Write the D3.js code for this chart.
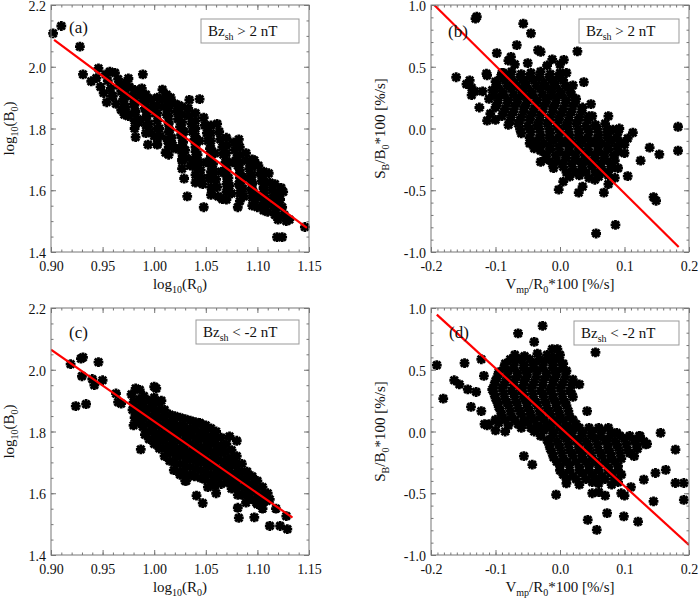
<!DOCTYPE html>
<html>
<head>
<meta charset="utf-8">
<script src="https://cdn.jsdelivr.net/npm/d3@7"></script>
<style>
  body { margin: 0; background: #fff; }
  text { font-family: "Liberation Serif", "Times New Roman", serif; fill: #111; }
</style>
</head>
<body>
<svg id="fig" width="699" height="602"></svg>
<script>
// ---- data ----
const ptsA = [
  [0.902,2.108],[0.910,2.132],[0.928,2.065],[0.931,1.975],[0.939,1.953],[0.946,1.995],[0.944,1.963],[0.953,1.975],
  [0.957,1.984],[0.962,1.98],[0.954,1.885],[0.959,1.905],[0.966,1.94],[0.973,1.853],[0.975,1.962],[0.982,1.772],
  [0.989,1.975],[0.994,1.748],[1.003,1.748],[1.011,1.722],[1.029,1.638],[1.032,1.580],[1.048,1.545],[1.034,1.893],
  [1.066,1.571],[1.081,1.545],[1.119,1.448],[1.124,1.448],[1.146,1.481],[1.123,1.608],[1.125,1.595],[1.111,1.655],
  [1.097,1.697],[1.082,1.765],[1.061,1.815],[1.044,1.895],[1.008,1.926],[0.988,1.93],[1.012,1.91],
  [0.948,1.935],[0.951,1.915],[0.955,1.955],[0.958,1.93],[0.96,1.905],[0.963,1.88],[0.965,1.96],[0.968,1.92],
  [0.97,1.895],[0.972,1.87],[0.976,1.935],[0.978,1.905],[0.98,1.88],[0.982,1.855],[0.984,1.83],[0.986,1.91],
  [0.989,1.89],[0.991,1.865],[0.993,1.84],[0.995,1.815],[0.997,1.895],[0.999,1.87],[1.001,1.85],[1.003,1.825],
  [1.005,1.80],[1.006,1.775],[1.008,1.895],[1.01,1.87],[1.012,1.845],[1.014,1.82],[1.015,1.795],[1.017,1.77],
  [1.018,1.745],[1.02,1.88],[1.022,1.855],[1.023,1.83],[1.025,1.805],[1.026,1.78],[1.028,1.755],[1.03,1.73],
  [1.031,1.705],[1.033,1.865],[1.034,1.84],[1.036,1.815],[1.037,1.79],[1.039,1.765],[1.04,1.74],[1.042,1.715],
  [1.043,1.69],[1.045,1.665],[1.046,1.64],[1.048,1.835],[1.049,1.81],[1.051,1.785],[1.052,1.76],[1.054,1.735],
  [1.055,1.71],[1.057,1.685],[1.058,1.66],[1.06,1.635],[1.061,1.61],[1.063,1.79],[1.064,1.765],[1.066,1.74],
  [1.067,1.715],[1.069,1.69],[1.07,1.665],[1.072,1.64],[1.073,1.615],[1.075,1.59],[1.077,1.755],[1.078,1.73],
  [1.08,1.705],[1.081,1.68],[1.083,1.655],[1.084,1.63],[1.086,1.605],[1.087,1.58],[1.089,1.72],[1.09,1.695],
  [1.092,1.67],[1.093,1.645],[1.095,1.62],[1.096,1.595],[1.098,1.57],[1.1,1.545],[1.101,1.68],[1.103,1.655],
  [1.104,1.63],[1.106,1.605],[1.107,1.58],[1.109,1.555],[1.11,1.53],[1.112,1.625],[1.114,1.60],[1.115,1.575],
  [1.117,1.55],[1.118,1.525],[1.12,1.505],[1.122,1.57],[1.124,1.545],[1.126,1.52],[1.128,1.50],[1.131,1.505],
  [1.12,1.585],[1.013,1.76],[1.021,1.735],[1.029,1.79],[1.038,1.70],[1.044,1.76],[1.05,1.69],[1.053,1.64],
  [1.059,1.72],[1.065,1.66],[1.071,1.60],[1.076,1.69],[1.082,1.62],[1.088,1.64],[1.094,1.60],[1.102,1.58],
  [1.108,1.56],[1.047,1.62],[1.062,1.58],[1.056,1.60],[1.035,1.68],[1.027,1.70],[0.996,1.79],[1.00,1.775],
  [0.985,1.82],[0.975,1.84],[0.968,1.86],[1.016,1.90],[1.024,1.875]
];
const fillA = [
  [0.971,1.945],[0.971,1.92],[0.971,1.895],[0.971,1.87],[0.971,1.845],
  [0.981,1.925],[0.981,1.90],[0.981,1.875],[0.981,1.85],[0.981,1.825],[0.981,1.80],
  [0.992,1.91],[0.992,1.885],[0.992,1.86],[0.992,1.835],[0.992,1.81],[0.992,1.785],
  [1.003,1.90],[1.003,1.875],[1.003,1.85],[1.003,1.80],[1.003,1.775],[1.003,1.75],
  [1.014,1.89],[1.014,1.865],[1.014,1.84],[1.014,1.815],[1.014,1.79],[1.014,1.765],[1.014,1.74],[1.014,1.715],
  [1.027,1.87],[1.027,1.845],[1.027,1.82],[1.027,1.795],[1.027,1.77],[1.027,1.745],[1.027,1.72],[1.027,1.695],[1.027,1.67],
  [1.040,1.85],[1.040,1.825],[1.040,1.80],[1.040,1.775],[1.040,1.75],[1.040,1.725],[1.040,1.70],[1.040,1.675],[1.040,1.65],[1.040,1.625],
  [1.055,1.81],[1.055,1.785],[1.055,1.76],[1.055,1.735],[1.055,1.71],[1.055,1.685],[1.055,1.66],[1.055,1.635],[1.055,1.61],[1.055,1.585],
  [1.070,1.77],[1.070,1.745],[1.070,1.72],[1.070,1.695],[1.070,1.67],[1.070,1.645],[1.070,1.62],[1.070,1.595],[1.070,1.57],
  [1.083,1.74],[1.083,1.715],[1.083,1.69],[1.083,1.665],[1.083,1.64],[1.083,1.615],[1.083,1.59],[1.083,1.565],
  [1.095,1.70],[1.095,1.675],[1.095,1.65],[1.095,1.625],[1.095,1.60],[1.095,1.575],[1.095,1.55],
  [1.106,1.66],[1.106,1.635],[1.106,1.61],[1.106,1.585],[1.106,1.56],[1.106,1.535],
  [1.117,1.62],[1.117,1.595],[1.117,1.57],[1.117,1.545],[1.117,1.52]
];
const ptsB = [
  [-0.131,0.89],[-0.129,0.905],[-0.057,0.85],[-0.045,0.77],[-0.161,0.415],[-0.14,0.39],[-0.137,0.33],[-0.137,0.27],
  [-0.132,0.30],[-0.145,0.36],[-0.114,0.445],[-0.113,0.43],[-0.113,0.063],[-0.098,0.61],[-0.067,0.675],[-0.034,0.635],
  [-0.03,0.62],[0.027,0.625],[0.037,0.375],[0.048,0.198],[-0.002,-0.495],[0.029,-0.52],[0.068,-0.52],[0.054,-0.415],
  [0.056,-0.85],[0.086,-0.78],[0.145,-0.555],[0.149,-0.585],[0.113,-0.033],[0.125,-0.26],[0.139,-0.155],[0.154,-0.21],
  [0.183,0.014],[0.183,-0.18],[0.105,-0.385],[0.10,-0.13],[0.092,0.0],[0.073,-0.03],[0.006,0.555],[-0.012,0.56],
  [-0.076,0.58],[-0.08,0.55],[-0.088,0.45],[-0.12,0.30],[-0.125,0.17],[-0.108,0.12],[-0.10,0.07],[-0.047,-0.12],
  [-0.04,-0.16],[-0.03,-0.27],[0.005,-0.43],[0.035,-0.47],[0.075,-0.45],[0.085,-0.40],[0.09,-0.32],[0.10,-0.20],
  [0.105,-0.08],[0.082,-0.01],[0.075,0.1],[0.05,0.1],[0.02,0.35],[0.01,0.45],
  [-0.07,0.52],[-0.05,0.53],[-0.02,0.51],[0.0,0.52],
  [-0.09,0.45],[-0.075,0.46],[-0.06,0.44],[-0.045,0.45],[-0.03,0.46],[-0.015,0.44],[0.0,0.45],
  [-0.10,0.38],[-0.085,0.39],[-0.07,0.37],[-0.055,0.38],[-0.04,0.39],[-0.025,0.37],[-0.01,0.38],[0.005,0.39],
  [-0.105,0.31],[-0.09,0.30],[-0.075,0.32],[-0.06,0.31],[-0.045,0.30],[-0.03,0.32],[-0.015,0.31],[0.0,0.30],[0.015,0.31],
  [-0.11,0.24],[-0.095,0.25],[-0.08,0.23],[-0.065,0.24],[-0.05,0.25],[-0.035,0.23],[-0.02,0.24],[-0.005,0.25],[0.01,0.23],[0.025,0.24],
  [-0.10,0.17],[-0.085,0.16],[-0.07,0.18],[-0.055,0.17],[-0.04,0.16],[-0.025,0.18],[-0.01,0.17],[0.005,0.16],[0.02,0.18],[0.035,0.17],
  [-0.09,0.10],[-0.075,0.11],[-0.06,0.09],[-0.045,0.10],[-0.03,0.11],[-0.015,0.09],[0.0,0.10],[0.015,0.11],[0.03,0.09],[0.045,0.10],
  [-0.08,0.03],[-0.065,0.04],[-0.05,0.02],[-0.035,0.03],[-0.02,0.04],[-0.005,0.02],[0.01,0.03],[0.025,0.04],[0.04,0.02],[0.055,0.03],[0.07,0.04],
  [-0.06,-0.04],[-0.045,-0.03],[-0.03,-0.05],[-0.015,-0.04],[0.0,-0.03],[0.015,-0.05],[0.03,-0.04],[0.045,-0.03],[0.06,-0.05],[0.075,-0.04],[0.09,-0.03],
  [-0.04,-0.11],[-0.025,-0.12],[-0.01,-0.10],[0.005,-0.11],[0.02,-0.12],[0.035,-0.10],[0.05,-0.11],[0.065,-0.12],[0.08,-0.10],[0.095,-0.11],
  [-0.03,-0.18],[-0.015,-0.17],[0.0,-0.19],[0.015,-0.18],[0.03,-0.17],[0.045,-0.19],[0.06,-0.18],[0.075,-0.17],[0.09,-0.19],
  [-0.02,-0.25],[-0.005,-0.26],[0.01,-0.24],[0.025,-0.25],[0.04,-0.26],[0.055,-0.24],[0.07,-0.25],[0.085,-0.26],
  [-0.01,-0.32],[0.005,-0.31],[0.02,-0.33],[0.035,-0.32],[0.05,-0.31],[0.065,-0.33],[0.08,-0.32],
  [0.015,-0.39],[0.03,-0.38],[0.045,-0.40],[0.06,-0.39],[0.075,-0.38]
];
const fillB = [
  [-0.092,0.415],[-0.077,0.415],[-0.062,0.415],[-0.047,0.415],[-0.032,0.415],[-0.017,0.415],[-0.002,0.415],
  [-0.097,0.345],[-0.082,0.345],[-0.067,0.345],[-0.052,0.345],[-0.037,0.345],[-0.022,0.345],[-0.007,0.345],[0.008,0.345],
  [-0.102,0.275],[-0.087,0.275],[-0.072,0.275],[-0.057,0.275],[-0.042,0.275],[-0.027,0.275],[-0.012,0.275],[0.003,0.275],[0.018,0.275],
  [-0.097,0.205],[-0.082,0.205],[-0.067,0.205],[-0.052,0.205],[-0.037,0.205],[-0.022,0.205],[-0.007,0.205],[0.008,0.205],[0.023,0.205],
  [-0.087,0.135],[-0.072,0.135],[-0.057,0.135],[-0.042,0.135],[-0.027,0.135],[-0.012,0.135],[0.003,0.135],[0.018,0.135],[0.033,0.135],
  [-0.077,0.065],[-0.062,0.065],[-0.047,0.065],[-0.032,0.065],[-0.017,0.065],[-0.002,0.065],[0.013,0.065],[0.028,0.065],[0.043,0.065],
  [-0.062,-0.005],[-0.047,-0.005],[-0.032,-0.005],[-0.017,-0.005],[-0.002,-0.005],[0.013,-0.005],[0.028,-0.005],[0.043,-0.005],[0.058,-0.005],[0.073,-0.005],
  [-0.047,-0.075],[-0.032,-0.075],[-0.017,-0.075],[-0.002,-0.075],[0.013,-0.075],[0.028,-0.075],[0.043,-0.075],[0.058,-0.075],[0.073,-0.075],[0.088,-0.075],
  [-0.032,-0.145],[-0.017,-0.145],[-0.002,-0.145],[0.013,-0.145],[0.028,-0.145],[0.043,-0.145],[0.058,-0.145],[0.073,-0.145],[0.088,-0.145],
  [-0.022,-0.215],[-0.007,-0.215],[0.008,-0.215],[0.023,-0.215],[0.038,-0.215],[0.053,-0.215],[0.068,-0.215],[0.083,-0.215],
  [-0.012,-0.285],[0.003,-0.285],[0.018,-0.285],[0.033,-0.285],[0.048,-0.285],[0.063,-0.285],[0.078,-0.285],
  [0.01,-0.355],[0.025,-0.355],[0.04,-0.355],[0.055,-0.355],[0.07,-0.355]
];
const ptsC = [
  [0.919,2.018],[0.929,2.036],[0.931,2.04],[0.946,2.025],[0.93,1.979],[0.94,1.97],[0.942,1.95],[0.95,1.966],
  [0.924,1.882],[0.934,1.889],[0.963,1.923],[0.965,1.895],[0.968,1.89],[0.987,1.742],[0.982,1.94],[0.986,1.935],
  [1.0,1.945],[1.002,1.94],[1.007,1.90],[1.041,1.592],[1.047,1.568],[1.044,1.828],[1.073,1.784],[1.08,1.77],
  [1.081,1.553],[1.082,1.52],[1.099,1.57],[1.097,1.522],[1.112,1.58],[1.112,1.494],[1.122,1.494],[1.129,1.484],
  [1.128,1.526],[1.118,1.55],[1.105,1.55],[1.09,1.60],[1.06,1.60],[1.052,1.62],[1.03,1.64],[1.025,1.66],
  [0.978,1.92],[0.98,1.895],[0.979,1.87],[0.981,1.845],[0.98,1.82],
  [0.99,1.915],[0.989,1.89],[0.991,1.865],[0.99,1.84],[0.989,1.815],[0.991,1.79],
  [1.0,1.91],[0.999,1.885],[1.001,1.86],[1.0,1.835],[0.999,1.81],[1.001,1.785],[1.0,1.76],
  [1.01,1.87],[1.009,1.845],[1.011,1.82],[1.01,1.795],[1.009,1.77],[1.011,1.745],[1.01,1.72],
  [1.02,1.85],[1.019,1.825],[1.021,1.80],[1.02,1.775],[1.019,1.75],[1.021,1.725],[1.02,1.70],[1.019,1.675],
  [1.03,1.84],[1.029,1.815],[1.031,1.79],[1.03,1.765],[1.029,1.74],[1.031,1.715],[1.03,1.69],[1.029,1.665],[1.031,1.64],
  [1.04,1.83],[1.039,1.805],[1.041,1.78],[1.04,1.755],[1.039,1.73],[1.041,1.705],[1.04,1.68],[1.039,1.655],
  [1.05,1.82],[1.049,1.795],[1.051,1.77],[1.05,1.745],[1.049,1.72],[1.051,1.695],[1.05,1.67],[1.049,1.645],
  [1.06,1.80],[1.059,1.775],[1.061,1.75],[1.06,1.725],[1.059,1.70],[1.061,1.675],[1.06,1.65],[1.059,1.625],
  [1.07,1.76],[1.069,1.735],[1.071,1.71],[1.07,1.685],[1.069,1.66],[1.071,1.635],
  [1.08,1.72],[1.079,1.695],[1.081,1.67],[1.08,1.645],[1.079,1.62],[1.081,1.595],
  [1.09,1.67],[1.089,1.645],[1.091,1.62],[1.09,1.595],[1.089,1.57],
  [1.10,1.64],[1.099,1.615],[1.101,1.59],[1.10,1.565],
  [1.11,1.60],[1.109,1.575]
];
const fillC = [
  [0.985,1.905],[0.985,1.88],[0.985,1.855],[0.985,1.83],
  [0.995,1.90],[0.995,1.875],[0.995,1.85],[0.995,1.825],[0.995,1.80],[0.995,1.775],
  [1.005,1.895],[1.005,1.87],[1.005,1.845],[1.005,1.82],[1.005,1.795],[1.005,1.77],[1.005,1.745],
  [1.015,1.855],[1.015,1.83],[1.015,1.805],[1.015,1.78],[1.015,1.755],[1.015,1.73],[1.015,1.705],
  [1.025,1.845],[1.025,1.82],[1.025,1.795],[1.025,1.77],[1.025,1.745],[1.025,1.72],[1.025,1.695],[1.025,1.67],
  [1.035,1.835],[1.035,1.81],[1.035,1.785],[1.035,1.76],[1.035,1.735],[1.035,1.71],[1.035,1.685],[1.035,1.66],
  [1.045,1.825],[1.045,1.80],[1.045,1.775],[1.045,1.75],[1.045,1.725],[1.045,1.70],[1.045,1.675],[1.045,1.65],
  [1.055,1.81],[1.055,1.785],[1.055,1.76],[1.055,1.735],[1.055,1.71],[1.055,1.685],[1.055,1.66],[1.055,1.635],
  [1.065,1.78],[1.065,1.755],[1.065,1.73],[1.065,1.705],[1.065,1.68],[1.065,1.655],[1.065,1.63],
  [1.075,1.74],[1.075,1.715],[1.075,1.69],[1.075,1.665],[1.075,1.64],[1.075,1.615],
  [1.085,1.695],[1.085,1.67],[1.085,1.645],[1.085,1.62],[1.085,1.595],
  [1.095,1.655],[1.095,1.63],[1.095,1.605],[1.095,1.58],
  [1.105,1.62],[1.105,1.595],[1.105,1.57]
];
const ptsD = [
  [-0.191,0.537],[-0.181,0.266],[-0.164,0.415],[-0.156,0.382],[-0.148,0.553],[-0.143,0.341],[-0.138,0.20],[-0.122,0.165],
  [-0.122,0.585],[-0.065,0.794],[-0.027,0.856],[-0.04,0.726],[-0.012,0.667],[-0.004,0.667],[0.055,0.64],[0.03,0.382],
  [0.042,0.165],[-0.056,-0.20],[-0.043,-0.268],[-0.006,-0.512],[0.043,-0.715],[0.057,-0.797],[0.073,-0.661],[0.099,-0.688],
  [0.121,-0.729],[0.145,-0.566],[0.13,-0.39],[0.124,-0.038],[0.156,-0.011],[0.148,-0.336],[0.164,-0.31],[0.179,-0.417],
  [0.192,-0.417],[0.179,-0.146],[0.192,-0.553],[0.088,-0.011],[0.135,-0.1],[0.115,-0.2],[0.11,-0.45],[0.07,-0.52],
  [-0.117,0.06],[-0.113,0.05],[-0.1,0.01],[-0.085,0.0],[-0.13,0.32],[-0.118,0.45],
  [-0.07,0.62],[-0.055,0.61],[-0.035,0.63],[-0.02,0.62],[-0.01,0.60],[0.0,0.62],
  [-0.085,0.55],[-0.07,0.56],[-0.055,0.54],[-0.04,0.55],[-0.025,0.56],[-0.01,0.54],[0.005,0.55],
  [-0.095,0.48],[-0.08,0.49],[-0.065,0.47],[-0.05,0.48],[-0.035,0.49],[-0.02,0.47],[-0.005,0.48],[0.01,0.49],
  [-0.10,0.41],[-0.085,0.40],[-0.07,0.42],[-0.055,0.41],[-0.04,0.40],[-0.025,0.42],[-0.01,0.41],[0.005,0.40],[0.02,0.42],
  [-0.105,0.34],[-0.09,0.35],[-0.075,0.33],[-0.06,0.34],[-0.045,0.35],[-0.03,0.33],[-0.015,0.34],[0.0,0.35],[0.015,0.33],
  [-0.10,0.27],[-0.085,0.26],[-0.07,0.28],[-0.055,0.27],[-0.04,0.26],[-0.025,0.28],[-0.01,0.27],[0.005,0.26],[0.02,0.28],
  [-0.095,0.20],[-0.08,0.21],[-0.065,0.19],[-0.05,0.20],[-0.035,0.21],[-0.02,0.19],[-0.005,0.20],[0.01,0.21],
  [-0.09,0.13],[-0.075,0.12],[-0.06,0.14],[-0.045,0.13],[-0.03,0.12],[-0.015,0.14],[0.0,0.13],[0.015,0.12],
  [-0.11,0.06],[-0.095,0.07],[-0.08,0.05],[-0.065,0.06],[-0.05,0.07],[-0.035,0.05],[-0.02,0.06],[-0.005,0.07],[0.01,0.05],[0.025,0.06],
  [-0.04,0.0],[-0.025,0.01],[-0.01,-0.01],[0.005,0.0],[0.02,0.01],[0.035,-0.01],[0.05,0.0],[0.065,0.01],[0.08,-0.01],
  [-0.02,-0.07],[-0.005,-0.08],[0.01,-0.06],[0.025,-0.07],[0.04,-0.08],[0.055,-0.06],[0.07,-0.07],[0.085,-0.08],[0.10,-0.06],[0.115,-0.07],[0.13,-0.08],
  [-0.015,-0.14],[0.0,-0.13],[0.015,-0.15],[0.03,-0.14],[0.045,-0.13],[0.06,-0.15],[0.075,-0.14],[0.09,-0.13],[0.105,-0.15],[0.12,-0.14],
  [-0.01,-0.21],[0.005,-0.22],[0.02,-0.20],[0.035,-0.21],[0.05,-0.22],[0.065,-0.20],[0.08,-0.21],[0.095,-0.22],
  [0.0,-0.28],[0.015,-0.27],[0.03,-0.29],[0.045,-0.28],[0.06,-0.27],[0.075,-0.29],[0.09,-0.28],
  [0.005,-0.35],[0.02,-0.36],[0.035,-0.34],[0.05,-0.35],[0.065,-0.36],[0.08,-0.34],[0.095,-0.35],
  [0.01,-0.42],[0.03,-0.43],[0.05,-0.41],[0.06,-0.42],[0.08,-0.43],[0.09,-0.41],
  [0.05,-0.50],[0.06,-0.49],[0.095,-0.50],[0.10,-0.52]
];
const fillD = [
  [-0.077,0.585],[-0.062,0.585],[-0.047,0.585],[-0.032,0.585],[-0.017,0.585],[-0.002,0.585],
  [-0.087,0.515],[-0.072,0.515],[-0.057,0.515],[-0.042,0.515],[-0.027,0.515],[-0.012,0.515],[0.003,0.515],
  [-0.097,0.445],[-0.082,0.445],[-0.067,0.445],[-0.052,0.445],[-0.037,0.445],[-0.022,0.445],[-0.007,0.445],[0.008,0.445],
  [-0.102,0.375],[-0.087,0.375],[-0.072,0.375],[-0.057,0.375],[-0.042,0.375],[-0.027,0.375],[-0.012,0.375],[0.003,0.375],[0.018,0.375],
  [-0.102,0.305],[-0.087,0.305],[-0.072,0.305],[-0.057,0.305],[-0.042,0.305],[-0.027,0.305],[-0.012,0.305],[0.003,0.305],[0.018,0.305],
  [-0.097,0.235],[-0.082,0.235],[-0.067,0.235],[-0.052,0.235],[-0.037,0.235],[-0.022,0.235],[-0.007,0.235],[0.008,0.235],
  [-0.092,0.165],[-0.077,0.165],[-0.062,0.165],[-0.047,0.165],[-0.032,0.165],[-0.017,0.165],[-0.002,0.165],[0.013,0.165],
  [-0.10,0.095],[-0.085,0.095],[-0.07,0.095],[-0.055,0.095],[-0.04,0.095],[-0.025,0.095],[-0.01,0.095],[0.005,0.095],[0.02,0.095],
  [-0.06,0.03],[-0.045,0.03],[-0.03,0.03],[-0.015,0.03],[0.0,0.03],[0.015,0.03],[0.03,0.03],[0.045,0.03],[0.06,0.03],[0.075,0.03],
  [-0.03,-0.035],[-0.012,-0.035],[0.003,-0.035],[0.018,-0.035],[0.033,-0.035],[0.048,-0.035],[0.063,-0.035],[0.078,-0.035],[0.093,-0.035],[0.108,-0.035],[0.123,-0.035],
  [-0.017,-0.105],[-0.002,-0.105],[0.013,-0.105],[0.028,-0.105],[0.043,-0.105],[0.058,-0.105],[0.073,-0.105],[0.088,-0.105],[0.103,-0.105],[0.118,-0.105],[0.133,-0.105],
  [-0.012,-0.175],[0.003,-0.175],[0.018,-0.175],[0.033,-0.175],[0.048,-0.175],[0.063,-0.175],[0.078,-0.175],[0.093,-0.175],[0.108,-0.175],
  [-0.005,-0.245],[0.01,-0.245],[0.025,-0.245],[0.04,-0.245],[0.055,-0.245],[0.07,-0.245],[0.085,-0.245],
  [0.0,-0.315],[0.015,-0.315],[0.03,-0.315],[0.045,-0.315],[0.06,-0.315],[0.075,-0.315],[0.09,-0.315],
  [0.01,-0.385],[0.025,-0.385],[0.04,-0.385],[0.055,-0.385],[0.07,-0.385],[0.085,-0.385]
];

// red fit lines (end points)
const fitA = [[0.903, 2.087], [1.148, 1.478]];
const fitB = [[-0.195, 1.0], [0.184, -0.96]];
const fitC = [[0.900, 2.065], [1.134, 1.521]];
const fitD = [[-0.191, 0.946], [0.200, -0.919]];

// axis ticks
const ticksLogR = [0.90, 0.95, 1.00, 1.05, 1.10, 1.15];
const ticksLogB = [1.4, 1.6, 1.8, 2.0, 2.2];
const ticksRate = [-0.2, -0.1, 0.0, 0.1, 0.2];
const ticksSB = [-1.0, -0.5, 0.0, 0.5, 1.0];

const panelLabels = ['(a)', '(b)', '(c)', '(d)'];
const legendTexts = [' > 2 nT', ' > 2 nT', ' < -2 nT', ' < -2 nT'];

// ---- drawing ----
const svg = d3.select('#fig');
const W = 258, H = 247;

const panels = [
  { pts: ptsA.concat(fillA), fit: fitA, left: 51, top: 5, xd: [0.90, 1.15], yd: [1.4, 2.2], xt: ticksLogR, yt: ticksLogB,
    xm: 25, ym: 16, xf: 2, yf: 1, type: 'log', lab: [69, 33], leg: [201, 19, 98] },
  { pts: ptsB.concat(fillB), fit: fitB, left: 431, top: 5, xd: [-0.2, 0.2], yd: [-1.0, 1.0], xt: ticksRate, yt: ticksSB,
    xm: 40, ym: 20, xf: 1, yf: 1, type: 'rate', lab: [448, 37], leg: [579, 19, 100] },
  { pts: ptsC.concat(fillC), fit: fitC, left: 51, top: 308, xd: [0.90, 1.15], yd: [1.4, 2.2], xt: ticksLogR, yt: ticksLogB,
    xm: 25, ym: 16, xf: 2, yf: 1, type: 'log', lab: [69, 338], leg: [196, 320, 103] },
  { pts: ptsD.concat(fillD), fit: fitD, left: 431, top: 308, xd: [-0.2, 0.2], yd: [-1.0, 1.0], xt: ticksRate, yt: ticksSB,
    xm: 40, ym: 20, xf: 1, yf: 1, type: 'rate', lab: [449, 338], leg: [574, 321, 105] }
];

function rich(textSel, parts, sub) {
  parts.forEach(p => {
    const isSub = p[1] === 1;
    textSel.append('tspan')
      .attr('dy', isSub ? sub : (p[2] ? -sub : 0))
      .attr('font-size', isSub ? '10px' : null)
      .text(p[0]);
  });
}

// asterisk marker (plus + cross), like IDL psym=2
const r = 4.9, d = r * 0.74;
const starPath = `M${-r},0H${r}M0,${-r}V${r}M${-d},${-d}L${d},${d}M${-d},${d}L${d},${-d}`;

panels.forEach((p, i) => {
  const x = d3.scaleLinear().domain(p.xd).range([0, W]);
  const y = d3.scaleLinear().domain(p.yd).range([H, 0]);
  const g = svg.append('g').attr('transform', `translate(${p.left},${p.top})`);

  const clip = 'clip' + i;
  g.append('clipPath').attr('id', clip).append('rect').attr('width', W).attr('height', H);

  // points
  g.append('g')
    .selectAll('path')
    .data(p.pts)
    .join('path')
    .attr('transform', v => `translate(${x(v[0])},${y(v[1])})`)
    .attr('d', starPath)
    .attr('stroke', '#000')
    .attr('stroke-width', 2.8)
    .attr('fill', 'none');

  // fit line
  g.append('line')
    .attr('clip-path', `url(#${clip})`)
    .attr('x1', x(p.fit[0][0])).attr('y1', y(p.fit[0][1]))
    .attr('x2', x(p.fit[1][0])).attr('y2', y(p.fit[1][1]))
    .attr('stroke', '#f00')
    .attr('stroke-width', 2.2);

  // axes: ticks point inward
  const fx = v => v.toFixed(p.xf), fy = v => v.toFixed(p.yf);
  const axCol = '#777';
  const mk = (axis, tr) => {
    const a = g.append('g').attr('transform', tr).call(axis);
    a.selectAll('.domain').remove();
    a.selectAll('line').attr('stroke', axCol);
    return a;
  };
  const bottom = mk(d3.axisBottom(x).tickValues(p.xt).tickFormat(fx).tickSizeInner(-5).tickPadding(9), `translate(0,${H})`);
  const leftA = mk(d3.axisLeft(y).tickValues(p.yt).tickFormat(fy).tickSizeInner(-5).tickPadding(5), null);
  mk(d3.axisTop(x).tickValues(p.xt).tickFormat('').tickSizeInner(-5), null);
  mk(d3.axisRight(y).tickValues(p.yt).tickFormat('').tickSizeInner(-5), `translate(${W},0)`);
  // minor ticks
  mk(d3.axisBottom(x).ticks(p.xm).tickFormat('').tickSizeInner(-2.5), `translate(0,${H})`);
  mk(d3.axisTop(x).ticks(p.xm).tickFormat('').tickSizeInner(-2.5), null);
  mk(d3.axisLeft(y).ticks(p.ym).tickFormat('').tickSizeInner(-2.5), null);
  mk(d3.axisRight(y).ticks(p.ym).tickFormat('').tickSizeInner(-2.5), `translate(${W},0)`);

  [bottom, leftA].forEach(a => a.selectAll('text')
    .attr('font-size', '14px')
    .attr('font-family', '"Liberation Serif", serif')
    .attr('fill', '#111'));
  leftA.selectAll('text').attr('dy', '0.4em');

  // frame
  g.append('rect').attr('width', W).attr('height', H)
    .attr('fill', 'none').attr('stroke', axCol).attr('stroke-width', 1);

  // panel label
  g.append('text')
    .attr('x', p.lab[0] - p.left).attr('y', p.lab[1] - p.top)
    .attr('font-size', '17px')
    .text(panelLabels[i]);

  // legend box
  const lx = p.leg[0] - p.left, ly = p.leg[1] - p.top;
  g.append('rect')
    .attr('x', lx).attr('y', ly).attr('width', p.leg[2]).attr('height', 24)
    .attr('fill', '#fff').attr('stroke', '#999').attr('stroke-width', 1);
  const lt = g.append('text').attr('x', lx + 7).attr('y', ly + 17).attr('font-size', '15px');
  rich(lt, [['Bz', 0], ['sh', 1], [legendTexts[i], 0, 1]], 4);

  // axis titles
  const xt = g.append('text')
    .attr('x', W / 2).attr('y', H + 37)
    .attr('text-anchor', 'middle').attr('font-size', '15px');
  const yt = g.append('text')
    .attr('transform', `translate(${p.type === 'log' ? -37 : -46},${H / 2}) rotate(-90)`)
    .attr('text-anchor', 'middle').attr('font-size', '15px');
  if (p.type === 'log') {
    rich(xt, [['log', 0], ['10', 1], ['(R', 0, 1], ['0', 1], [')', 0, 1]], 4);
    rich(yt, [['log', 0], ['10', 1], ['(B', 0, 1], ['0', 1], [')', 0, 1]], 4);
  } else {
    rich(xt, [['V', 0], ['mp', 1], ['/R', 0, 1], ['0', 1], ['*100 [%/s]', 0, 1]], 4);
    rich(yt, [['S', 0], ['B', 1], ['/B', 0, 1], ['0', 1], ['*100 [%/s]', 0, 1]], 4);
  }
});
</script>
</body>
</html>
